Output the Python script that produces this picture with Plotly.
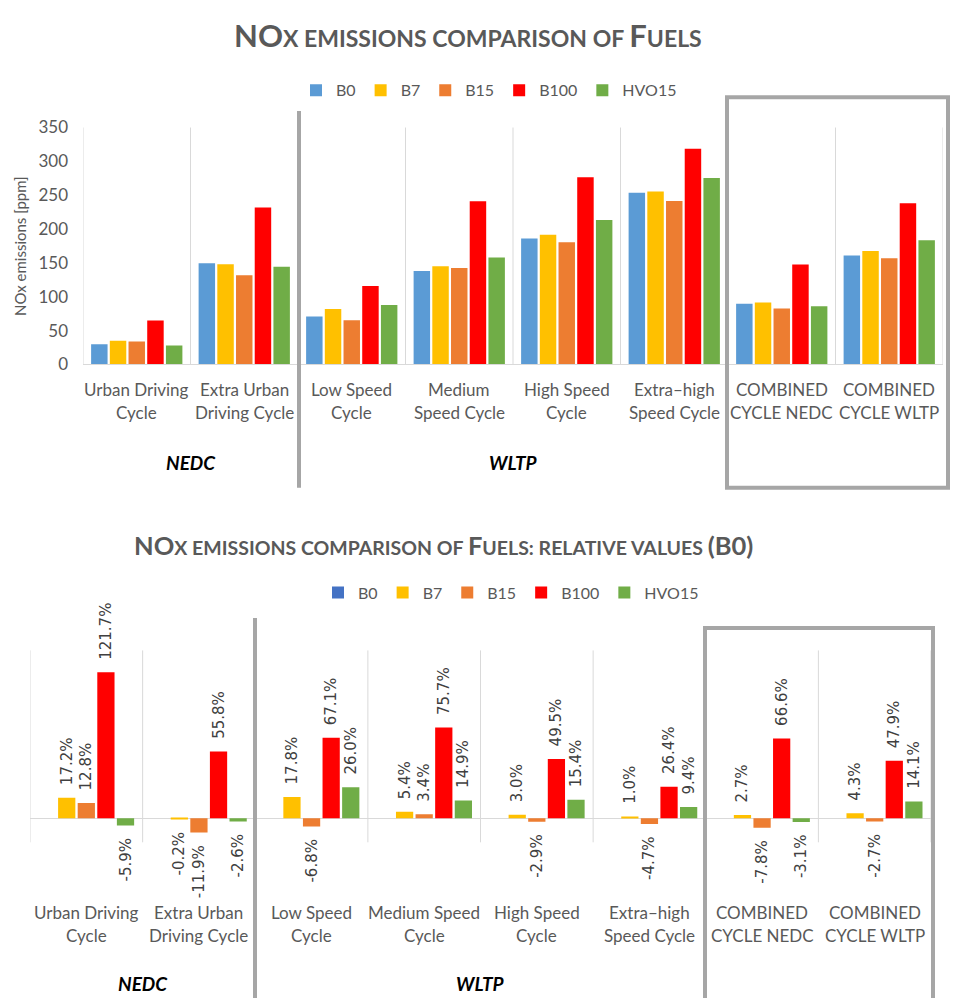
import plotly.graph_objects as go

# ---- data -------------------------------------------------------------
fuels = ["B0", "B7", "B15", "B100", "HVO15"]
cycles_top = [
    "Urban Driving<br>Cycle", "Extra Urban<br>Driving Cycle", "Low Speed<br>Cycle",
    "Medium<br>Speed Cycle", "High Speed<br>Cycle", "Extra\u2013high<br>Speed Cycle",
    "COMBINED<br>CYCLE NEDC", "COMBINED<br>CYCLE WLTP",
]
cycles_bottom = [
    "Urban Driving<br>Cycle", "Extra Urban<br>Driving Cycle", "Low Speed<br>Cycle",
    "Medium Speed<br>Cycle", "High Speed<br>Cycle", "Extra\u2013high<br>Speed Cycle",
    "COMBINED<br>CYCLE NEDC", "COMBINED<br>CYCLE WLTP",
]
groups = ["NEDC", "WLTP"]

# NOx emissions [ppm]
nox_b0 = [30, 149.5, 71, 138, 186, 253.5, 89.7, 161]
nox_b7 = [35, 148, 82, 145, 191.5, 255.5, 91.5, 167.5]
nox_b15 = [34, 131.7, 65.5, 142.5, 180.5, 241.5, 82.5, 157]
nox_b100 = [65, 232, 116, 241, 276.5, 318.5, 147.5, 238]
nox_hvo15 = [28, 144.5, 88, 158, 213.5, 275.5, 86, 183.5]

# relative change vs. B0 [%]
rel_b0 = [0, 0, 0, 0, 0, 0, 0, 0]
rel_b7 = [17.2, -0.2, 17.8, 5.4, 3.0, 1.0, 2.7, 4.3]
rel_b15 = [12.8, -11.9, -6.8, 3.4, -2.9, -4.7, -7.8, -2.7]
rel_b100 = [121.7, 55.8, 67.1, 75.7, 49.5, 26.4, 66.6, 47.9]
rel_hvo15 = [-5.9, -2.6, 26.0, 14.9, 15.4, 9.4, -3.1, 14.1]

# ---- styling -----------------------------------------------------------
W, H = 954, 1008
FONT = "Lato, Liberation Sans Narrow, DejaVu Sans Condensed, sans-serif"
LABEL_FONT = "DejaVu Sans, Verdana, sans-serif"
GREY_TXT = "#595959"
GRID = "#D9D9D9"
FRAME = "#A6A6A6"
colors_top = ["#5B9BD5", "#FFC000", "#ED7D31", "#FF0000", "#70AD47"]
colors_bottom = ["#4472C4", "#FFC000", "#ED7D31", "#FF0000", "#70AD47"]
NBSP = "\u00a0\u00a0"  # keeps the rotated value labels clear of the bar ends


def px(x):
    return x / W


def py(y):
    return 1 - y / H


fig = go.Figure()

top_series = [nox_b0, nox_b7, nox_b15, nox_b100, nox_hvo15]
for name, vals, col in zip(fuels, top_series, colors_top):
    fig.add_trace(go.Bar(
        x=list(range(len(cycles_top))), y=vals, name=name,
        marker=dict(color=col, line=dict(width=0)),
        xaxis="x", yaxis="y", legend="legend",
    ))


def value_label(v):
    s = f"{v:.1f}%"
    # text is rotated to read upwards: pad the end that faces the bar
    return NBSP + s if v >= 0 else s + NBSP


bottom_series = [rel_b0, rel_b7, rel_b15, rel_b100, rel_hvo15]
for name, vals, col in zip(fuels, bottom_series, colors_bottom):
    texts = ["" if name == "B0" else value_label(v) for v in vals]
    fig.add_trace(go.Bar(
        x=list(range(len(cycles_bottom))), y=vals, name=name,
        marker=dict(color=col, line=dict(width=0)),
        text=texts, textposition="outside", textangle=-90,
        constraintext="none", cliponaxis=False,
        textfont=dict(family=LABEL_FONT, size=15, color="#404040"),
        xaxis="x2", yaxis="y2", legend="legend2",
    ))

annotations = []


def small_caps_title(parts, big_size, small_size):
    """parts: list of (text, is_big) pieces rendered as bold small caps."""
    out = ""
    for txt, big in parts:
        size = big_size if big else small_size
        out += f"<span style='font-size:{size}px'>{txt}</span>"
    return f"<b>{out}</b>"


annotations.append(dict(
    x=px(468), y=py(25), xref="paper", yref="paper", showarrow=False,
    xanchor="center", yanchor="middle",
    text=small_caps_title([("NO", True), ("X EMISSIONS COMPARISON OF ", False),
                           ("F", True), ("UELS", False)], 31, 23),
    font=dict(family=FONT, color=GREY_TXT, size=23),
))
annotations.append(dict(
    x=px(443), y=py(545), xref="paper", yref="paper", showarrow=False,
    xanchor="center", yanchor="middle",
    text=small_caps_title([("NO", True), ("X EMISSIONS COMPARISON OF ", False),
                           ("F", True), ("UELS: RELATIVE VALUES ", False),
                           ("(B0)", True)], 25.5, 19.5),
    font=dict(family=FONT, color=GREY_TXT, size=19.5),
))

# y-axis title of the upper chart
annotations.append(dict(
    x=px(20), y=py(240), xref="paper", yref="paper", showarrow=False,
    textangle=-90, xanchor="center", yanchor="middle",
    text="NOx emissions [ppm]", font=dict(family=FONT, color=GREY_TXT, size=15),
))


def add_category_labels(labels, xref, y_first, line_gap):
    for i, lab in enumerate(labels):
        for j, line in enumerate(lab.split("<br>")):
            annotations.append(dict(
                x=i, y=py(y_first + j * line_gap), xref=xref, yref="paper",
                showarrow=False, xanchor="center", yanchor="middle", text=line,
                font=dict(family=FONT, color=GREY_TXT, size=17),
            ))


add_category_labels(cycles_top, "x", 387, 23)
add_category_labels(cycles_bottom, "x2", 921, 23)

# test-procedure group labels
for xref, yy in (("x", 461), ("x2", 993)):
    for g, xc in zip(groups, (0.5, 3.5)):
        annotations.append(dict(
            x=xc, y=py(yy), xref=xref, yref="paper", showarrow=False,
            xanchor="center", yanchor="middle", text=f"<b><i>{g}</i></b>",
            font=dict(family=FONT, color="#000000", size=19),
        ))


def frame_line(x0, y0, x1, y1):
    return dict(type="line", xref="paper", yref="paper",
                x0=px(x0), x1=px(x1), y0=py(y0), y1=py(y1),
                line=dict(color=FRAME, width=4))


# separators between NEDC / WLTP and frames around the combined cycles
shapes = [
    frame_line(299, 102, 299, 487),
    dict(type="rect", xref="paper", yref="paper", x0=px(727), x1=px(948),
         y0=py(88), y1=py(487), line=dict(color=FRAME, width=4)),
    frame_line(255, 620, 255, 1008),
    # lower frame runs off the bottom of the page: left, top and right sides
    frame_line(705, 630, 705, 1008),
    frame_line(703, 630, 935, 630),
    frame_line(933, 630, 933, 1008),
]

legend_style = dict(
    orientation="h", xanchor="left", yanchor="middle",
    font=dict(family=FONT, color=GREY_TXT, size=16),
    bgcolor="rgba(0,0,0,0)", itemwidth=30, traceorder="normal",
)

fig.update_layout(
    width=W, height=H, autosize=False,
    margin=dict(l=0, r=0, t=0, b=0),
    paper_bgcolor="white", plot_bgcolor="white",
    barmode="group", bargap=0.13, bargroupgap=0.12,
    font=dict(family=FONT, color=GREY_TXT),
    legend=dict(x=px(296), y=py(81), **legend_style),
    legend2=dict(x=px(318), y=py(594), **legend_style),
    xaxis=dict(
        domain=[px(83), px(943)], range=[-0.5, 7.5], type="linear",
        tickvals=list(range(len(cycles_top))), showticklabels=False,
        showgrid=False, zeroline=False,
        showline=True, linecolor=GRID, linewidth=1,
    ),
    yaxis=dict(
        domain=[py(361), py(119)], range=[0, 350], dtick=50,
        showgrid=False, zeroline=False, showline=False,
        ticks="", ticklabelstandoff=14,
        tickfont=dict(family=FONT, color=GREY_TXT, size=17),
    ),
    xaxis2=dict(
        domain=[px(30), px(931)], range=[-0.5, 7.5], type="linear",
        tickvals=list(range(len(cycles_bottom))), showticklabels=False,
        showgrid=False, zeroline=False, showline=False, anchor="y2",
    ),
    yaxis2=dict(
        domain=[py(849), py(653)], range=[-20, 140],
        showgrid=False, showticklabels=False, ticks="", showline=False,
        zeroline=True, zerolinecolor=GRID, zerolinewidth=1, anchor="x2",
    ),
    annotations=annotations,
)

# vertical gridlines at the category boundaries
n = len(cycles_top)
for k in range(n + 1):
    b = k - 0.5
    shapes.append(dict(type="line", xref="x", yref="paper", x0=b, x1=b,
                       y0=py(361), y1=py(119), line=dict(color=GRID, width=1),
                       layer="below"))
    shapes.append(dict(type="line", xref="x2", yref="paper", x0=b, x1=b,
                       y0=py(849), y1=py(653), line=dict(color=GRID, width=1),
                       layer="below"))

fig.update_layout(shapes=shapes)

fig.write_html("out.html")
